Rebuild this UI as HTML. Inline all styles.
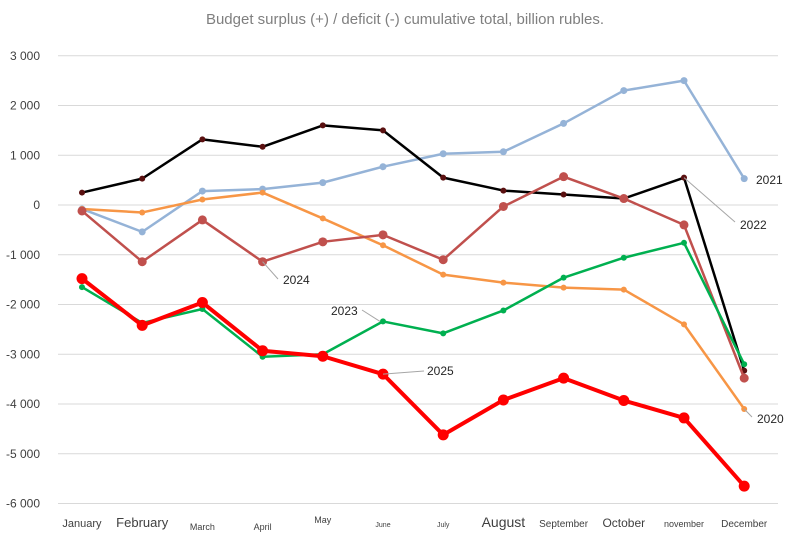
<!DOCTYPE html>
<html><head><meta charset="utf-8"><style>
body{margin:0;background:#fff;}
svg{display:block;font-family:"Liberation Sans",sans-serif;}
</style></head><body>
<svg id="c" width="811" height="551"></svg>
<script>
const months=["January","February","March","April","May","June","July","August","September","October","november","December"];
const monthSizes=[11,13,9,9,9,7,7,14,10,12,9,10];
const monthDy=[0,0,3,3,-4,0,0,0,0,0,0,0];
const yTicks=[3000,2000,1000,0,-1000,-2000,-3000,-4000,-5000,-6000];
const yTickLabels=["3 000","2 000","1 000","0","-1 000","-2 000","-3 000","-4 000","-5 000","-6 000"];
const s2021=[-80,-540,280,320,450,770,1030,1070,1640,2300,2500,530];
const s2022=[250,530,1320,1170,1600,1500,550,290,210,130,550,-3330];
const s2020=[-80,-150,110,250,-270,-810,-1400,-1560,-1660,-1700,-2400,-4100];
const s2024=[-120,-1140,-300,-1140,-740,-600,-1100,-30,570,130,-400,-3480];
const s2023=[-1650,-2370,-2090,-3050,-3000,-2340,-2580,-2120,-1460,-1060,-760,-3200];
const s2025=[-1480,-2420,-1960,-2930,-3040,-3400,-4620,-3920,-3480,-3930,-4280,-5650];

const NS="http://www.w3.org/2000/svg";
const svg=document.getElementById('c');
const x=i=>82+i*60.2;
const y=v=>205-v*0.04975;
function mk(t,a,p){const e=document.createElementNS(NS,t);for(const k in a)e.setAttribute(k,a[k]);(p||svg).appendChild(e);return e;}

const title=mk('text',{x:405,y:24,'text-anchor':'middle','font-size':15,fill:'#7f7f7f'});
title.textContent="Budget surplus (+) / deficit (-) cumulative total, billion rubles.";



yTicks.forEach((v,i)=>{
  const g=mk('line',{x1:58,x2:778,y1:y(v),y2:y(v),stroke:'#d9d9d9','stroke-width':1});
  
  
  const t=mk('text',{x:40,y:y(v)+4,'text-anchor':'end','font-size':12,fill:'#404040'});
  t.textContent=yTickLabels[i];
  
  
});
months.forEach((m,i)=>{
  const t=mk('text',{x:x(i),y:527+monthDy[i],'text-anchor':'middle','font-size':monthSizes[i],fill:'#404040'});
  t.textContent=m;
  
  
});

const series=[
  {d:s2021,c:'#95b3d7',w:2.5,r:3.5,n:'series-2021'},
  {d:s2022,c:'#000000',w:2.5,r:3,n:'series-2022'},
  {d:s2020,c:'#f79646',w:2.5,r:3,n:'series-2020'},
  {d:s2024,c:'#c0504d',w:2.5,r:4.5,n:'series-2024'},
  {d:s2023,c:'#00b050',w:2.5,r:3,n:'series-2023'},
  {d:s2025,c:'#ff0000',w:4,r:5.5,n:'series-2025'}
];
series.forEach(s=>{
  const g=mk('g',{});
  
  
  const pts=s.d.map((v,i)=>x(i)+','+y(v)).join(' ');
  mk('polyline',{points:pts,fill:'none',stroke:s.c,'stroke-width':s.w,'stroke-linejoin':'round'},g);
  s.d.forEach((v,i)=>{
    const p=mk('circle',{cx:x(i),cy:y(v),r:s.r,fill:s.c},g);
    if(s.n==='series-2022')p.setAttribute('fill','#5a1010');
    
    
  });
});

const labels=[
  {t:'2021',x:756,y:184,lx:null},
  {t:'2022',x:740,y:229,l:[x(10),y(550),735,222]},
  {t:'2020',x:757,y:423,l:[x(11),y(-4100),752,417]},
  {t:'2024',x:283,y:284,l:[x(3),y(-1140),278,279]},
  {t:'2023',x:331,y:315,l:[362,310,x(5)-3,y(-2340)]},
  {t:'2025',x:427,y:375,l:[x(5),y(-3400),424,371]}
];
labels.forEach(L=>{
  if(L.l){const ln=mk('line',{x1:L.l[0],y1:L.l[1],x2:L.l[2],y2:L.l[3],stroke:'#a6a6a6','stroke-width':1});
    
    }
  const t=mk('text',{x:L.x,y:L.y,'font-size':12,fill:'#262626'});
  t.textContent=L.t;
  
  
});
</script>
</body></html>
